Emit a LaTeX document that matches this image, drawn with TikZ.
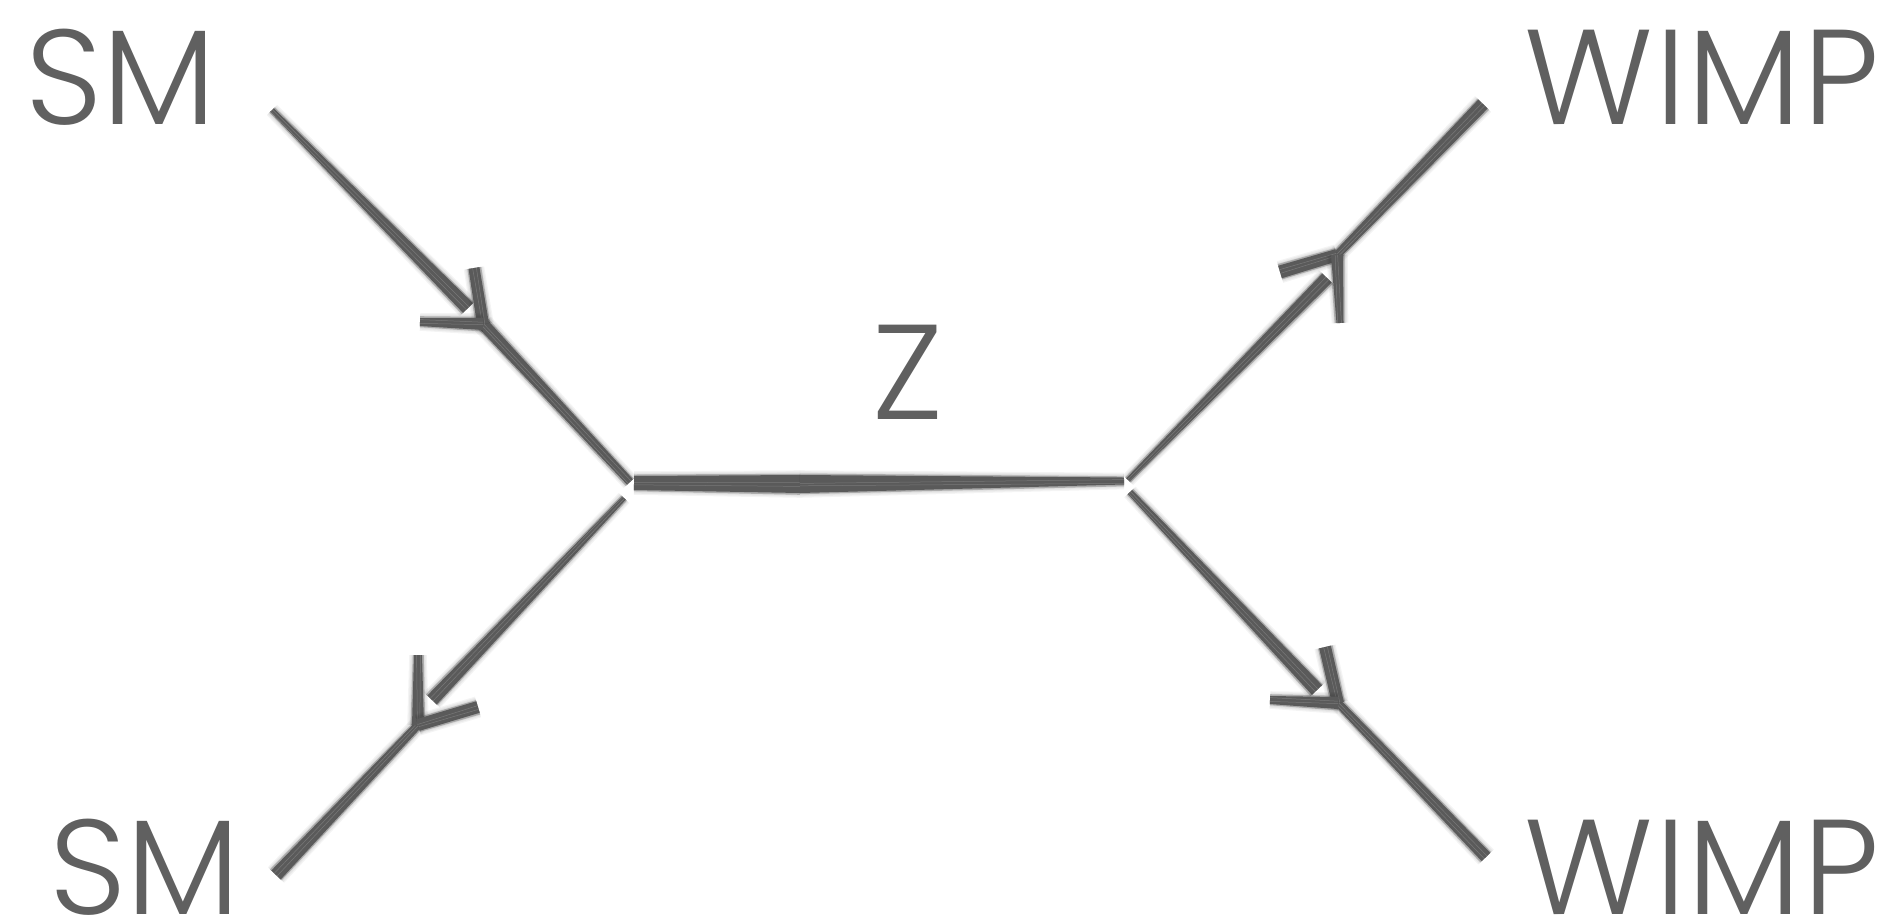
\documentclass[tikz,border=0pt]{standalone}
\usepackage{fontspec}
\setmainfont{Poppins Light}
\usetikzlibrary{calc}
\definecolor{ink}{HTML}{5A5A5A}
\definecolor{txt}{HTML}{606060}
\tikzset{
  lbl/.style={inner sep=0pt, anchor=base, text=txt, font=\fontsize{135}{135}\selectfont},
  inkfill/.style={fill=ink},
  featherfill/.style={fill=ink, opacity=0.35},
  shadowfill/.style={fill=black, opacity=0.045},
  streak/.style={draw=white, line width=0.5pt, opacity=0.18},
}
% tapered brush stroke from #1 to #2 with half widths #3 and #4 (in pt)
\newcommand\brushstroke[4]{%
  \foreach \g in {2,4,6,8} {
    \fill[shadowfill, shift={(4,6)}]
      ($(#1)!{#3pt+0.6pt*\g}!90:(#2)$) -- ($(#2)!{#4pt+0.6pt*\g}!-90:(#1)$) --
      ($(#2)!{#4pt+0.6pt*\g}!90:(#1)$) -- ($(#1)!{#3pt+0.6pt*\g}!-90:(#2)$) -- cycle;
  }
  \fill[featherfill]
    ($(#1)!{#3pt+1.5pt}!90:(#2)$) -- ($(#2)!{#4pt+1.2pt}!-90:(#1)$) --
    ($(#2)!{#4pt+1.8pt}!90:(#1)$) -- ($(#1)!{#3pt+1.2pt}!-90:(#2)$) -- cycle;
  \fill[inkfill]
    ($(#1)!#3pt!90:(#2)$) -- ($(#2)!#4pt!-90:(#1)$) --
    ($(#2)!#4pt!90:(#1)$) -- ($(#1)!#3pt!-90:(#2)$) -- cycle;
  \draw[streak] ($(#1)!0.6pt!90:(#2)$) -- ($(#2)!1.4pt!-90:(#1)$);
  \draw[streak] ($(#1)!-1.8pt!90:(#2)$) -- ($(#2)!-2.4pt!-90:(#1)$);
}
\begin{document}
\begin{tikzpicture}[x=1pt,y=-1pt]
\useasboundingbox[fill=white] (0,0) rectangle (1900,922);

% labels
\node[lbl] (smtop) at (121,124) {SM};
\node[lbl] (smbot) at (145,914) {SM};
\node[lbl] (wimptop) at (1702,124) {W\kern2pt I\kern2pt M\kern2pt P};
\node[lbl] (wimpbot) at (1702,914) {W\kern2pt I\kern2pt M\kern2pt P};
\node[lbl] (zlbl) at (908,419) {Z};

% vertices and points
\coordinate (A) at (272,110);
\coordinate (E1) at (468,308);
\coordinate (T1) at (483,324);
\coordinate (V1) at (630,482);
\coordinate (T1u) at (474,268);
\coordinate (T1l) at (420,322);

\coordinate (H1) at (634,483);
\coordinate (HM) at (800,484);
\coordinate (H2) at (1124,481);

\coordinate (V1b) at (624,498);
\coordinate (E3) at (432,700);
\coordinate (T3) at (418,725);
\coordinate (B) at (276,875);
\coordinate (T3u) at (418,655);
\coordinate (T3r) at (478,707);

\coordinate (V2) at (1128,480);
\coordinate (E4) at (1327,278);
\coordinate (T4) at (1337,255);
\coordinate (C) at (1483,104);
\coordinate (T4l) at (1280,272);
\coordinate (T4d) at (1340,323);

\coordinate (V2b) at (1130,492);
\coordinate (E5) at (1317,690);
\coordinate (T5) at (1338,703);
\coordinate (D) at (1486,857);
\coordinate (T5u) at (1325,647);
\coordinate (T5l) at (1270,700);

% incoming SM line
\brushstroke{A}{E1}{2.5}{7}
\brushstroke{T1}{V1}{6}{4}
\brushstroke{T1}{T1u}{6}{5.5}
\brushstroke{T1}{T1l}{6}{4}

% Z propagator
\brushstroke{H1}{HM}{7}{9}
\brushstroke{HM}{H2}{9}{3.5}

% outgoing SM line
\brushstroke{V1b}{E3}{2.5}{6.5}
\brushstroke{T3}{B}{4}{6.5}
\brushstroke{T3}{T3u}{6}{4}
\brushstroke{T3}{T3r}{6}{6}

% upper WIMP
\brushstroke{V2}{E4}{2.5}{6.5}
\brushstroke{T4}{C}{4}{6.5}
\brushstroke{T4}{T4l}{6}{6.5}
\brushstroke{T4}{T4d}{6}{3.5}

% lower WIMP
\brushstroke{V2b}{E5}{3}{7}
\brushstroke{T5}{D}{4}{6}
\brushstroke{T5}{T5u}{6}{6}
\brushstroke{T5}{T5l}{6}{4}
\end{tikzpicture}
\end{document}
